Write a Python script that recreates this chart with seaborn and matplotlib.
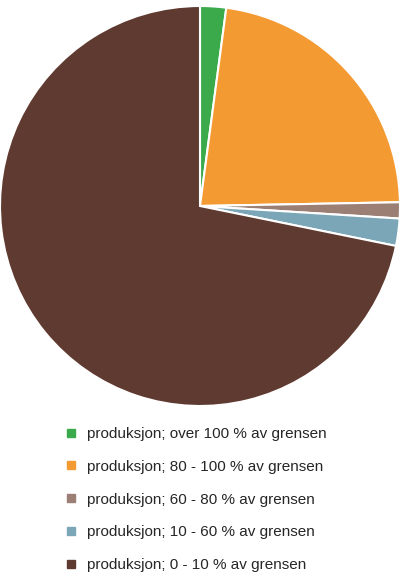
import matplotlib
matplotlib.use("Agg")
import matplotlib.pyplot as plt
import seaborn as sns
from matplotlib.lines import Line2D

# =====================================
# Data
# =====================================

labels = [
    "produksjon; over 100 % av grensen",
    "produksjon; 80 - 100 % av grensen",
    "produksjon; 60 - 80 % av grensen",
    "produksjon; 10 - 60 % av grensen",
    "produksjon; 0 - 10 % av grensen",
]

shares = [2.1, 22.6, 1.3, 2.2, 71.8]

colors = ["#3aaa4b", "#f49a32", "#9b7f74", "#7ba6b8", "#5f3a30"]

# =====================================
# Plot
# =====================================

sns.set_theme(style="white")
plt.rcParams["font.family"] = ["Liberation Sans", "DejaVu Sans"]

fig = plt.figure(figsize=(4, 5.79), dpi=100)
ax = fig.add_axes([0, (579 - 406) / 579, 1, 400 / 579])

ax.pie(
    shares,
    colors=sns.color_palette(colors),
    startangle=90,
    counterclock=False,
    wedgeprops=dict(edgecolor="white", linewidth=1.5),
)
ax.set_xlim(-1.0, 1.0)
ax.set_ylim(-1.0, 1.0)
ax.axis("off")

handles = [
    Line2D([0], [0], marker="s", linestyle="none",
           markersize=6, markerfacecolor=c, markeredgecolor=c)
    for c in colors
]

fig.legend(
    handles,
    labels,
    loc="upper left",
    bbox_to_anchor=(0.163, (579 - 427) / 579),
    frameon=False,
    fontsize=11,
    labelspacing=1.23,
    handlelength=0.8,
    handletextpad=0.6,
    borderpad=0,
    borderaxespad=0,
)

plt.savefig("out.png", dpi=100)
